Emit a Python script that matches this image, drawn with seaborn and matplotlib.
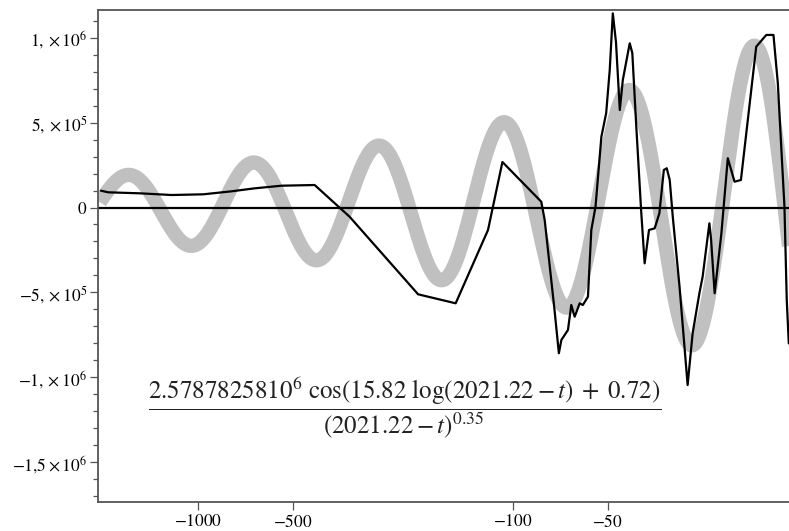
import numpy as np
import pandas as pd
import matplotlib
matplotlib.use("Agg")
import matplotlib.pyplot as plt
import seaborn as sns
from matplotlib.ticker import FixedLocator, FixedFormatter, MultipleLocator, NullLocator

# ---------------- data (x = t - 2021.22, i.e. time before the critical time) -------------
obs_x = [-2031, -1925, -1528, -1212, -962, -782, -660, -543, -426, -330, -200, -152,
         -120, -108, -81.3, -79.3, -73.8, -71.5, -70.2, -66.9, -65.3, -63.7, -61.4,
         -60.0, -57.8, -56.4, -54.7, -52.4, -50.6, -49.3, -48.2, -47.1, -45.8, -44.8,
         -42.6, -41.8, -40.6, -39.2, -38.2, -37.0, -35.5, -34.3, -33.2, -32.5, -31.8,
         -31.1, -29.6, -27.9, -26.9, -25.6, -25.0, -23.8, -23.5, -22.9, -21.8, -20.8,
         -20.15, -19.8, -18.9, -16.9, -15.7, -14.9, -14.43, -13.75, -13.52, -13.32]
obs_y = [99000, 89500, 83600, 73600, 77700, 95400, 113000, 128400, 132500, -54200,
         -511000, -564000, -132500, 268000, 34000, -73600, -603500, -858000, -780000,
         -721000, -574000, -643000, -564000, -574000, -525000, -132500, 4700, 417000,
         555000, 810000, 1143000, 974000, 574000, 751000, 967000, 910000, 476000,
         -14700, -328500, -132500, -122500, -34000, 221000, 231000, 162000, -54000,
         -466000, -1045000, -741000, -505000, -407000, -93000, -191000, -505000,
         -152000, 290000, 201000, 152000, 162000, 947000, 1016000, 1016000, 731000,
         5000, -545000, -800000]

# log-periodic model shown in the annotation
AMP = 2.5787825810e6
OMEGA = 15.82
PHASE = -0.72
T_CRIT = 2021.22
BETA = 0.35
model_span = [-2046.0, -13.3]

x_ticks = [-1000, -500, -100, -50]
x_tick_labels = [r"$-1000$", r"$-500$", r"$-100$", r"$-50$"]
y_ticks = [-1.5e6, -1.0e6, -5e5, 0, 5e5, 1.0e6]
y_tick_labels = [r"$-1{,}5\times10^{6}$", r"$-1,\times10^{6}$", r"$-5,\times10^{5}$",
                 r"$0$", r"$5,\times10^{5}$", r"$1,\times10^{6}$"]
x_limits = [-2080.0, -13.3]
y_limits = [-1.732e6, 1.163e6]

formula = (r"$\dfrac{2.5787825810^{6}\ \cos(15.82\ \log(2021.22-t)\;+\;0.72)}"
           r"{(2021.22-t)^{0.35}}$")

# ---------------- style ----------------
sns.set_style("ticks")
plt.rcParams["font.family"] = ["Liberation Serif", "DejaVu Serif"]
plt.rcParams["mathtext.fontset"] = "stix"

fig = plt.figure(figsize=(7.89, 5.31), dpi=100)
ax = fig.add_axes([0.1238, 0.0552, 0.8762, 0.9260])

d = np.geomspace(-model_span[0], -model_span[1], 2000)
model = pd.DataFrame({"x": -d,
                      "y": AMP * np.cos(OMEGA * np.log10(d) + PHASE) / d ** BETA})
obs = pd.DataFrame({"x": obs_x, "y": obs_y})

sns.lineplot(data=model, x="x", y="y", ax=ax, color="#c0c0c0", linewidth=10.3,
             sort=False, estimator=None, zorder=1, solid_capstyle="butt")
ax.axhline(0, color="black", linewidth=1.6, zorder=2)
sns.lineplot(data=obs, x="x", y="y", ax=ax, color="black", linewidth=1.6,
             sort=False, estimator=None, zorder=3)


def fwd(x):
    x = np.asarray(x, dtype=float)
    return -np.log10(np.clip(-x, 1e-9, None))


def inv(u):
    return -np.power(10.0, -np.asarray(u, dtype=float))


ax.set_xscale("function", functions=(fwd, inv))
ax.set_xlim(x_limits)
ax.set_ylim(y_limits)

ax.xaxis.set_major_locator(FixedLocator(x_ticks))
ax.xaxis.set_major_formatter(FixedFormatter(x_tick_labels))
ax.xaxis.set_minor_locator(NullLocator())
ax.yaxis.set_major_locator(FixedLocator(y_ticks))
ax.yaxis.set_major_formatter(FixedFormatter(y_tick_labels))
ax.yaxis.set_minor_locator(MultipleLocator(1e5))

ax.set_xlabel("")
ax.set_ylabel("")
for side in ["left", "bottom", "top"]:
    ax.spines[side].set_color("#555555")
    ax.spines[side].set_linewidth(1.3)
ax.spines["right"].set_visible(False)

ax.tick_params(axis="both", which="major", direction="out", length=6, width=0.9,
               color="#555555", labelsize=12.5, labelcolor="black")
ax.tick_params(axis="y", which="major", pad=1.5)
ax.tick_params(axis="x", which="major", pad=3)
ax.tick_params(axis="y", which="minor", direction="out", length=3.5, width=0.9,
               color="#555555")

ax.text(0.4445, 0.1906, formula, transform=ax.transAxes, ha="center", va="center",
        fontsize=18, color="#222222")

fig.savefig("out.png", dpi=100)
